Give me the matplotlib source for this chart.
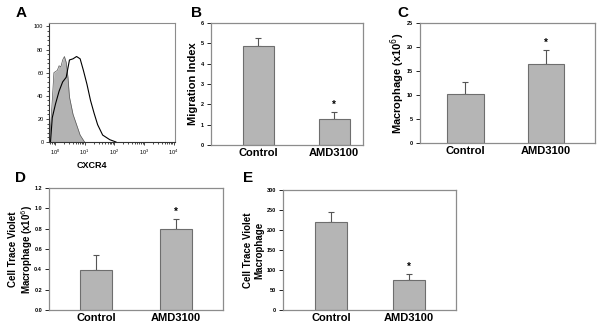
"""CXCR4 expression (flow histogram) and the effect of AMD3100 on migration and macrophage counts."""
import numpy as np
import matplotlib; matplotlib.use("Agg"); import matplotlib.pyplot as plt
from matplotlib.ticker import LogLocator, MultipleLocator, NullFormatter

plt.rcParams["font.family"] = ["Liberation Sans", "DejaVu Sans"]

# --- panel A: flow cytometry histograms (log10 fluorescence, % of max) ---
iso_log = [-0.18, -0.15, -0.09, -0.035, 0.08, 0.14, 0.20, 0.26, 0.32, 0.38, 0.44, 0.49, 0.61, 0.73, 0.85, 1.0]
iso_cnt = [0, 12, 36, 60, 62, 66, 65, 71, 74, 69, 56, 39, 24, 15, 6, 0]
cxcr4_log = [-0.15, -0.09, 0.02, 0.14, 0.26, 0.38, 0.49, 0.61, 0.73, 0.85, 0.96, 1.08, 1.20, 1.32, 1.44, 1.61, 1.85, 2.06]
cxcr4_cnt = [0, 21, 33, 44, 52, 56, 71, 72, 74, 72, 62, 50, 36, 25, 15, 6, 2, 0]

# --- panels B-E: bar charts (mean, SEM) ---
groups = ["Control", "AMD3100"]
migration = [4.85, 1.30]; migration_err = [0.40, 0.32]
macro = [10.2, 16.4]; macro_err = [2.5, 3.0]
ctv_macro = [0.39, 0.80]; ctv_macro_err = [0.15, 0.10]
ctv_count = [220, 75]; ctv_count_err = [24, 15]
signif = [False, True]

W, H = 604, 331
fig = plt.figure(figsize=(W / 100, H / 100), dpi=100)
def px_axes(l, r, t, b): return fig.add_axes([l / W, 1 - b / H, (r - l) / W, (b - t) / H])

GRAY = "#8c8c8c"; BAR = "#b5b5b5"; TICKFS = 4


def bar_panel(ax, vals, errs, ylim, step, ylabel, xlim, width, labx, labfs=8, fmt=None):
    x = np.arange(len(groups))
    ax.bar(x, vals, width=width, color=BAR, edgecolor="#6e6e6e", lw=0.8, zorder=2)
    ax.errorbar(x, vals, yerr=[np.zeros(len(errs)), errs], fmt="none", ecolor="#555555",
                elinewidth=0.8, capsize=2.2, capthick=0.8, zorder=1)
    for xi, v, e, s in zip(x, vals, errs, signif):
        if s:
            ax.annotate("*", (xi, v + e), xytext=(0, 1.5), textcoords="offset points",
                        ha="center", va="bottom", fontsize=7, fontweight="bold")
    ax.set_xlim(*xlim); ax.set_ylim(*ylim)
    ax.yaxis.set_major_locator(MultipleLocator(step))
    if fmt: ax.yaxis.set_major_formatter(fmt)
    ax.set_xticks(x); ax.set_xticklabels(groups, fontsize=8, fontweight="bold")
    ax.tick_params(axis="x", length=0, pad=2)
    ax.tick_params(axis="y", labelsize=TICKFS, length=3, width=0.6, pad=2)
    for lab in ax.get_yticklabels(): lab.set_fontweight("bold")
    for sp in ax.spines.values(): sp.set_color(GRAY); sp.set_linewidth(0.9)
    ax.set_ylabel(ylabel, fontsize=labfs, fontweight="bold", linespacing=1.15)
    ax.yaxis.set_label_coords(labx, 0.5)


# A
axA = px_axes(49, 175, 23, 142)
ix = 10 ** np.array(iso_log); cx = 10 ** np.array(cxcr4_log)
axA.fill_between(ix, iso_cnt, color="#b3b3b3", lw=0)
axA.plot(ix, iso_cnt, color="#555555", lw=0.5)
axA.plot(cx, cxcr4_cnt, color="black", lw=0.8)
axA.set_xscale("log"); axA.set_xlim(10 ** -0.2, 10 ** 4.05); axA.set_ylim(0, 103)
axA.xaxis.set_major_locator(LogLocator(base=10, numticks=6))
axA.xaxis.set_minor_locator(LogLocator(base=10, subs=np.arange(2, 10), numticks=20))
axA.xaxis.set_minor_formatter(NullFormatter())
axA.yaxis.set_major_locator(MultipleLocator(20)); axA.yaxis.set_minor_locator(MultipleLocator(4))
axA.tick_params(which="both", labelsize=TICKFS, width=0.5, pad=1.5)
axA.tick_params(which="major", length=2.5); axA.tick_params(which="minor", length=1.2)
for sp in ["top", "right"]: axA.spines[sp].set_color(GRAY)
for sp in ["left", "bottom"]: axA.spines[sp].set_color("#333333")
for sp in axA.spines.values(): sp.set_linewidth(0.8)
fig.text(92 / W, 1 - 165 / H, "CXCR4", ha="center", va="center", fontsize=6.5, fontweight="bold")

# B
axB = px_axes(211, 363, 23, 145)
bar_panel(axB, migration, migration_err, (0, 6), 1, "Migration Index", (-0.62, 1.38), 0.41, -0.086)
# C
axC = px_axes(420, 595, 23, 143)
bar_panel(axC, macro, macro_err, (0, 25), 5, "Macrophage (x10$^6$)", (-0.565, 1.61), 0.456, -0.074)
# D
axD = px_axes(49, 223, 188, 310)
bar_panel(axD, ctv_macro, ctv_macro_err, (0, 1.2), 0.2, "Cell Trace Violet\nMacrophage (x10$^6$)",
          (-0.59, 1.59), 0.41, -0.08, labfs=7, fmt="{x:.1f}")
# E
axE = px_axes(283, 456, 190, 310)
bar_panel(axE, ctv_count, ctv_count_err, (0, 300), 50, "Cell Trace Violet\nMacrophage",
          (-0.62, 1.60), 0.41, -0.11, labfs=7)

for lab, (x, y) in zip("ABCDE", [(21, 13), (196, 13), (403, 13), (21, 178), (248, 178)]):
    fig.text(x / W, 1 - y / H, lab, ha="center", va="center", fontsize=11, fontweight="bold")

fig.savefig("out.png", dpi=100)
